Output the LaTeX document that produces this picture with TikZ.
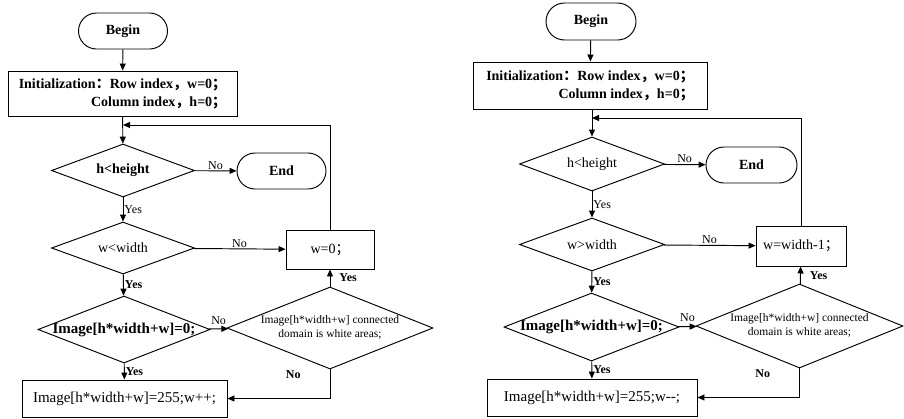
\documentclass[tikz,border=0pt]{standalone}
\usepackage{fontspec}
\setmainfont{Liberation Serif}
\newfontfamily\cjk{Noto Sans CJK SC}
\usetikzlibrary{shapes.geometric,shapes.misc,arrows.meta}

% full-width punctuation and zero-width centred text
\newcommand{\fw}[1]{{\cjk #1}}
\newcommand{\zw}[1]{\makebox[0pt]{#1}}

\tikzset{
  lw/.style={line width=0.95pt},
  flow/.style={lw, -{Triangle[length=7pt,width=6pt]}},
  term/.style={rounded rectangle, draw, lw, inner sep=0pt,
    font=\fontsize{14}{16}\selectfont\bfseries},
  proc/.style={rectangle, draw, lw, inner sep=0pt,
    font=\fontsize{14}{18}\selectfont},
  dec/.style={diamond, draw, lw, inner sep=0pt,
    font=\fontsize{14}{16}\selectfont},
  lab/.style={inner sep=1pt, font=\fontsize{12}{13}\selectfont},
  blab/.style={inner sep=1pt, font=\fontsize{12}{13}\selectfont\bfseries},
  big/.style={font=\fontsize{15}{17}\selectfont},
  bigb/.style={font=\fontsize{15}{17}\selectfont\bfseries},
  small/.style={font=\fontsize{11.5}{14}\selectfont},
}

\begin{document}
\begin{tikzpicture}[x=1pt, y=-1pt]
\useasboundingbox (0,0) rectangle (904,418);

% ---------------- left flow chart ----------------
\node[term, minimum width=89, minimum height=36] (b1) at (123,31) {Begin};
\node[proc, minimum width=229, minimum height=45, align=right,
      font=\fontsize{14}{18}\selectfont\bfseries] (i1) at (122.5,93.5)
  {Initialization\fw{：}Row index\fw{，}w=0\fw{；}\\Column index\fw{，}h=0\fw{；}};
\coordinate (j1) at (123,125);
\node[dec, minimum width=143, minimum height=53,
      font=\fontsize{14}{16}\selectfont\bfseries] (d1) at (123,170.5) {\zw{h<height}};
\node[term, minimum width=89, minimum height=36] (e1) at (281.5,171) {End};
\node[dec, minimum width=143, minimum height=52] (d2) at (123,248) {\zw{w<width}};
\node[proc, minimum width=88, minimum height=39] (p1) at (330,249.5) {w=0\fw{；}};
\node[dec, bigb, minimum width=172, minimum height=67] (d3) at (124,329.5)
  {\zw{Image[h*width+w]=0;}};
\node[dec, small, minimum width=206, minimum height=82] (d4) at (330,328)
  {\zw{\begin{tabular}{@{}c@{}}Image[h*width+w] connected\\domain is white areas;\end{tabular}}};
\node[proc, big, minimum width=205, minimum height=37] (p2) at (124.5,398.5)
  {Image[h*width+w]=255;w++;};

\draw[flow] (b1) -- (i1);
\draw[flow] (i1) -- (d1);
\draw[flow] (p1.north) |- (j1);
\draw[flow] (d1) -- node[lab, above] (n1) {No} (e1);
\draw[flow] (d1) -- node[lab, right] (y1) {Yes} (d2);
\draw[flow] (d2) -- node[lab, above] (n2) {No} (p1);
\draw[flow] (d2) -- node[blab, right] (y2) {Yes} (d3);
\draw[flow] (d3) -- node[lab, above=3pt] (n3) {No} (d4);
\draw[flow] (d4) -- node[blab, right=8pt] (y3) {Yes} (p1);
\draw[flow] (d4.south) |- node[blab, pos=0, anchor=north east, xshift=-28pt] (n4) {No} (p2.east);
\draw[flow] (d3) -- node[blab, right] (y4) {Yes} (p2);

% ---------------- right flow chart ----------------
\node[term, minimum width=90, minimum height=37] (b2) at (591,21.5) {Begin};
\node[proc, minimum width=234, minimum height=47, align=right,
      font=\fontsize{14}{18}\selectfont\bfseries] (i2) at (590,85.5)
  {Initialization\fw{：}Row index\fw{，}w=0\fw{；}\\Column index\fw{，}h=0\fw{；}};
\coordinate (j2) at (592,118);
\node[dec, minimum width=145, minimum height=54] (d5) at (592,164) {\zw{h<height}};
\node[term, minimum width=91, minimum height=36] (e2) at (751.5,165) {End};
\node[dec, minimum width=145, minimum height=53] (d6) at (592,244.5) {\zw{w>width}};
\node[proc, minimum width=90, minimum height=40] (p3) at (801,246) {w=width-1\fw{；}};
\node[dec, bigb, minimum width=175, minimum height=68] (d7) at (591.5,327)
  {\zw{Image[h*width+w]=0;}};
\node[dec, small, minimum width=207, minimum height=84] (d8) at (799.5,326)
  {\zw{\begin{tabular}{@{}c@{}}Image[h*width+w] connected\\domain is white areas;\end{tabular}}};
\node[proc, big, minimum width=210, minimum height=37] (p4) at (592,397.5)
  {Image[h*width+w]=255;w-{}-;};

\draw[flow] (b2) -- (i2);
\draw[flow] (i2.south -| d5.north) -- (d5);
\draw[flow] (p3.north) |- (j2);
\draw[flow] (d5) -- node[lab, above] (n5) {No} (e2);
\draw[flow] (d5) -- node[lab, right] (y5) {Yes} (d6);
\draw[flow] (d6) -- node[lab, above] (n6) {No} (p3);
\draw[flow] (d6) -- node[blab, right] (y6) {Yes} (d7);
\draw[flow] (d7) -- node[lab, above=3pt] (n7) {No} (d8);
\draw[flow] (d8) -- node[blab, right=8pt] (y7) {Yes} (p3);
\draw[flow] (d8.south) |- node[blab, pos=0, anchor=north east, xshift=-28pt] (n8) {No} (p4.east);
\draw[flow] (d7) -- node[blab, right] (y8) {Yes} (p4);
\end{tikzpicture}
\end{document}
